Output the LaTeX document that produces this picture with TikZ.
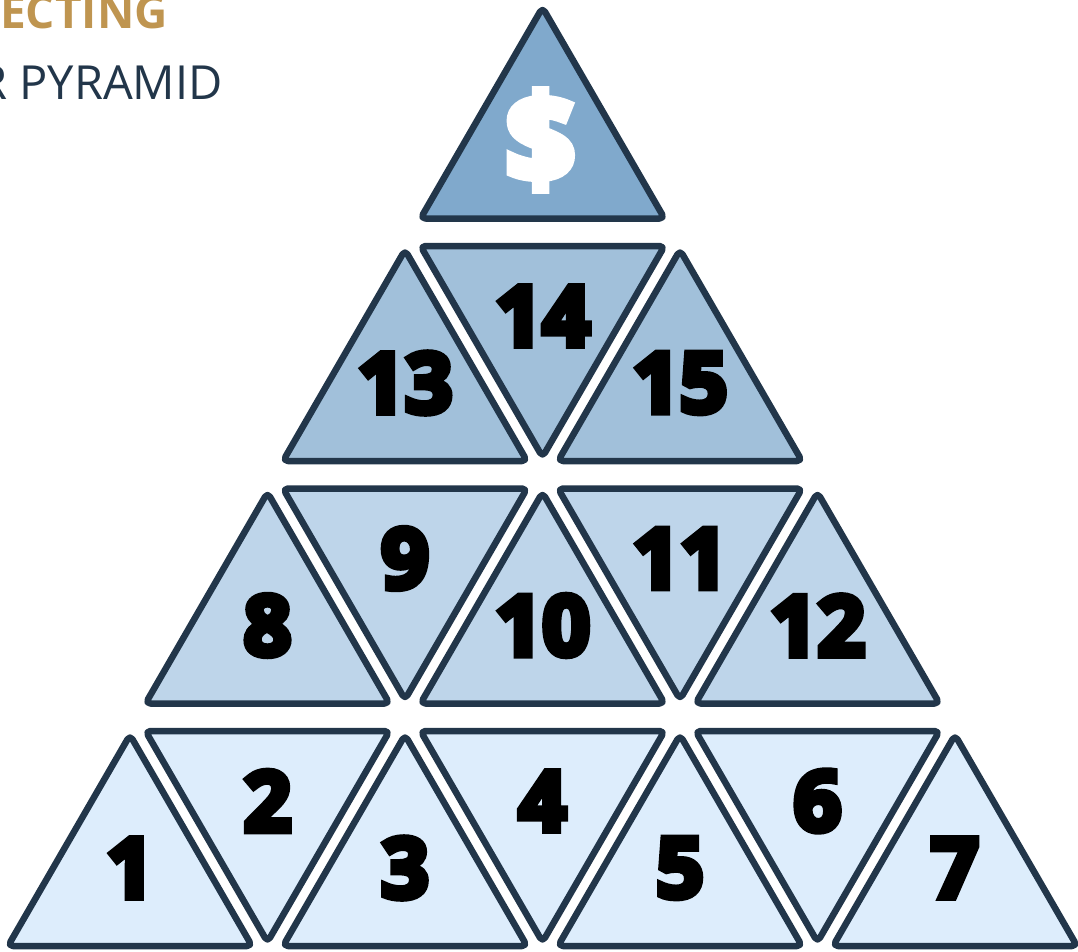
\documentclass[tikz,border=0pt]{standalone}
\usepackage{fontspec}
\setmainfont{Open Sans}
\definecolor{edge}{HTML}{22364A}
\definecolor{gold}{HTML}{BF9550}
\definecolor{lvA}{HTML}{80A9CC}
\definecolor{lvB}{HTML}{A1C0DA}
\definecolor{lvC}{HTML}{BED5EA}
\definecolor{lvD}{HTML}{DDEDFC}
\tikzset{
  tri/.style={draw=edge, line width=6.5pt, rounded corners=5pt, line join=round},
  num/.style={font=\bfseries\fontsize{83}{83}\selectfont\addfontfeature{FakeBold=8}, text=black, inner sep=0pt},
}
\newcommand\UpTri[4]{%
  \filldraw[tri, fill=#3] (#1-122,#2) -- (#1,#2-211) -- (#1+122,#2) -- cycle;
  \node[num] (t#4) at (#1,#2-78) {#4};}
\newcommand\DnTri[4]{%
  \filldraw[tri, fill=#3] (#1-122,#2) -- (#1+122,#2) -- (#1,#2+211) -- cycle;
  \node[num] (t#4) at (#1,#2+70) {#4};}
\begin{document}
\begin{tikzpicture}[x=1pt, y=-1pt]
\useasboundingbox (0,0) rectangle (1078,952);
% titles
\node[anchor=base east, inner sep=0pt, text=gold, font=\bfseries\fontsize{46}{46}\selectfont] (title1) at (168,29) {ECTING};
\node[anchor=base east, inner sep=0pt, text=edge, font=\fontsize{47}{47}\selectfont] (title2) at (223,100) {R PYRAMID};
% bottom row
\UpTri{130}{946}{lvD}{1}
\DnTri{267.5}{731}{lvD}{2}
\UpTri{405}{946}{lvD}{3}
\DnTri{542.5}{731}{lvD}{4}
\UpTri{680}{946}{lvD}{5}
\DnTri{817.5}{731}{lvD}{6}
\UpTri{955}{946}{lvD}{7}
% third row
\UpTri{267.5}{703.5}{lvC}{8}
\DnTri{405}{488.5}{lvC}{9}
\UpTri{542.5}{703.5}{lvC}{10}
\DnTri{680}{488.5}{lvC}{11}
\UpTri{817.5}{703.5}{lvC}{12}
% second row
\UpTri{405}{461}{lvB}{13}
\DnTri{542.5}{246}{lvB}{14}
\UpTri{680}{461}{lvB}{15}
% top
\filldraw[tri, fill=lvA] (420.5,218.5) -- (542.5,7.5) -- (664.5,218.5) -- cycle;
\node[inner sep=0pt, text=white, font=\bfseries\fontsize{120}{120}\selectfont\addfontfeature{FakeBold=8}] (dollar) at (540.5,140) {\$};
\end{tikzpicture}
\end{document}
